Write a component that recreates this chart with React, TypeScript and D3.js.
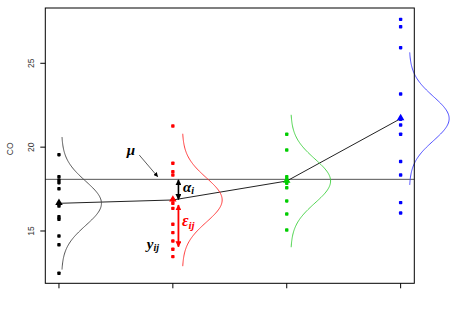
import React from "react";
import * as d3 from "d3";

// ---- data ----
const groups = [1, 2, 3, 4];
const groupColors = ["#000000", "#ff0000", "#00cd00", "#0000ff"];
const curveColors = ["#444444", "#ff2a2a", "#3ccf3c", "#3a3aff"];
const blackValues = [19.55, 18.24, 18.04, 17.88, 17.52, 16.61, 16.49, 15.85, 15.7, 14.7, 14.18, 12.48];
const redValues = [21.26, 19.04, 18.54, 18.34, 16.85, 16.65, 16.35, 15.4, 14.9, 14.4, 13.91, 13.47];
const greenValues = [20.77, 19.83, 18.24, 18.08, 17.98, 17.84, 17.58, 16.79, 16.01, 15.06];
const blueValues = [27.62, 27.18, 25.93, 23.17, 21.66, 21.32, 20.77, 19.14, 18.34, 16.69, 16.07];
const groupMeans = [16.65, 16.85, 17.98, 21.7];
const grandMean = 18.08;
const pooledSd = 1.316;
const curveOffsets = [0.023, 0.083, 0.035, 0.076];
const curveWidth = 0.35;
const yTicks = [15, 20, 25];
const yLabel = "CO";

const seriesValues = [blackValues, redValues, greenValues, blueValues];

export default function App() {
  const W = 460, H = 310;
  const left = 45.3, right = 414.3, top = 8, bottom = 283.3;
  const x = d3.scaleLinear().domain([0.88, 4.12]).range([left, right]);
  const y = d3.scaleLinear().domain([11.881, 28.297]).range([bottom, top]);

  const tri = d3.symbol(d3.symbolTriangle, 24)() as string;
  const line = d3.line<[number, number]>().x((d) => x(d[0])).y((d) => y(d[1]));
  const ts = d3.range(-3, 3.0001, 0.05);

  const meanPts: [number, number][] = groups.map((g, i) => [g, groupMeans[i]]);

  // annotation anchors (data coords)
  const arrowX = 2.049;
  const muText = { x: 1.632, y: 19.77 };
  const muArrow = { x1: 1.705, y1: 19.53, x2: 1.867, y2: 18.24 };
  const epsTop = 16.55, epsBottom = 14.06;

  const sans = "'Liberation Sans', Arial, sans-serif";
  const serif = "'Liberation Serif', 'DejaVu Serif', serif";

  return (
    <svg width={W} height={H} style={{ position: "absolute", left: 0, top: 0, background: "#fff" }}>
      <defs>
        <marker id="ahK" viewBox="0 0 10 10" refX="9" refY="5" markerWidth="4.5" markerHeight="4.5" orient="auto-start-reverse" markerUnits="userSpaceOnUse">
          <path d="M0,0 L10,5 L0,10 z" fill="#000" />
        </marker>
        <marker id="ahK2" viewBox="0 0 10 10" refX="9" refY="5" markerWidth="6" markerHeight="6" orient="auto-start-reverse" markerUnits="userSpaceOnUse">
          <path d="M0,0 L10,5 L0,10 z" fill="#000" />
        </marker>
        <marker id="ahR" viewBox="0 0 10 10" refX="9" refY="5" markerWidth="6" markerHeight="6" orient="auto-start-reverse" markerUnits="userSpaceOnUse">
          <path d="M0,0 L10,5 L0,10 z" fill="#ff0000" />
        </marker>
      </defs>

      {/* grand mean line */}
      <line x1={left} x2={right} y1={y(grandMean)} y2={y(grandMean)} stroke="#555" strokeWidth={1} />

      {/* line connecting group means */}
      <path d={line(meanPts) || ""} fill="none" stroke="#222" strokeWidth={1} />

      {/* normal curves */}
      {groups.map((g, i) => {
        const pts: [number, number][] = ts.map((t) => [
          g + curveOffsets[i] + curveWidth * Math.exp((-t * t) / 2),
          groupMeans[i] + t * pooledSd,
        ]);
        return <path key={"c" + i} d={line(pts) || ""} fill="none" stroke={curveColors[i]} strokeWidth={0.9} />;
      })}

      {/* points */}
      {groups.map((g, i) =>
        seriesValues[i].map((v, j) => (
          <rect key={`p${i}-${j}`} x={x(g) - 1.7} y={y(v) - 1.7} width={3.4} height={3.4} rx={0.8} fill={groupColors[i]} />
        ))
      )}

      {/* mean triangles */}
      {groups.map((g, i) => (
        <path key={"t" + i} d={tri} transform={`translate(${x(g)},${y(groupMeans[i]) - 0.5})`} fill={groupColors[i]} />
      ))}

      {/* mu annotation */}
      <text x={x(muText.x)} y={y(muText.y) + 4.5} textAnchor="middle" fontFamily={serif} fontStyle="italic" fontWeight="bold" fontSize={15}>μ</text>
      <line x1={x(muArrow.x1)} y1={y(muArrow.y1)} x2={x(muArrow.x2)} y2={y(muArrow.y2)} stroke="#333" strokeWidth={0.8} markerEnd="url(#ahK)" />

      {/* alpha arrow */}
      <line x1={x(arrowX)} x2={x(arrowX)} y1={y(grandMean) + 0.5} y2={y(groupMeans[1]) - 0.5} stroke="#000" strokeWidth={1.6} markerStart="url(#ahK2)" markerEnd="url(#ahK2)" />
      <text x={x(arrowX) + 4.5} y={y(grandMean) + 12.5} fontFamily={serif} fontStyle="italic" fontWeight="bold" fontSize={15} fill="#000">
        α<tspan fontSize={10} dy={2}>i</tspan>
      </text>

      {/* epsilon arrow */}
      <line x1={x(arrowX)} x2={x(arrowX)} y1={y(epsTop)} y2={y(epsBottom)} stroke="#ff0000" strokeWidth={1.8} markerStart="url(#ahR)" markerEnd="url(#ahR)" />
      <text x={x(arrowX) + 3.5} y={y(epsTop) + 21} fontFamily={serif} fontStyle="italic" fontWeight="bold" fontSize={16} fill="#ff0000">
        ε<tspan fontSize={11} dy={3}>ij</tspan>
      </text>

      {/* y_ij label */}
      <text x={x(2) - 26} y={y(epsBottom) + 2.5} fontFamily={serif} fontStyle="italic" fontWeight="bold" fontSize={15} fill="#000">
        y<tspan fontSize={10} dy={2}>ij</tspan>
      </text>

      {/* box */}
      <rect x={left} y={top} width={right - left} height={bottom - top} fill="none" stroke="#000" strokeWidth={1} />

      {/* y axis ticks and labels */}
      {yTicks.map((t) => (
        <g key={"yt" + t}>
          <line x1={left - 5} x2={left} y1={y(t)} y2={y(t)} stroke="#000" strokeWidth={1} />
          <text transform={`translate(${left - 11},${y(t)}) rotate(-90)`} textAnchor="middle" fontFamily={sans} fontSize={8.5} fill="#333">{t}</text>
        </g>
      ))}
      <text transform={`translate(13,${y(19.9)}) rotate(-90)`} textAnchor="middle" fontFamily={sans} fontSize={8.5} fill="#333">{yLabel}</text>

      {/* x axis ticks (no labels) */}
      {groups.map((g) => (
        <line key={"xt" + g} x1={x(g)} x2={x(g)} y1={bottom} y2={bottom + 5} stroke="#000" strokeWidth={1} />
      ))}
    </svg>
  );
}
